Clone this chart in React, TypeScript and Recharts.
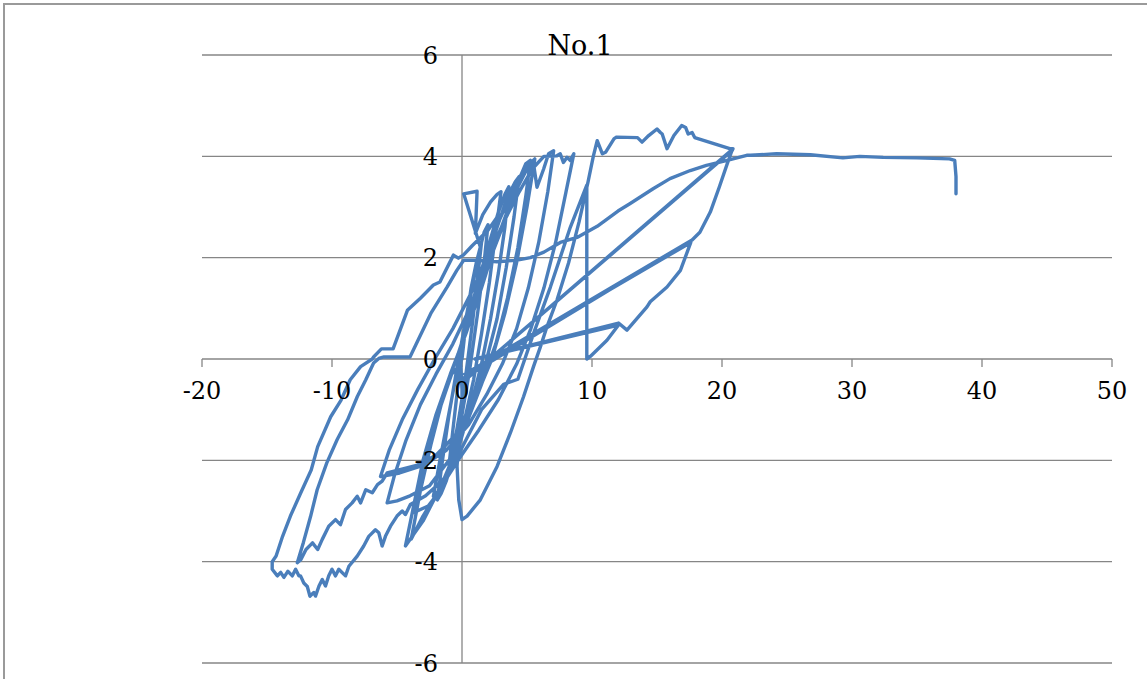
import React from 'react';
import { ScatterChart, Scatter, XAxis, YAxis, ReferenceLine, ReferenceDot } from 'recharts';

const xTicks = [-20, -10, 0, 10, 20, 30, 40, 50];
const yTicks = [-6, -4, -2, 0, 2, 4, 6];
const gridRows = [-6, -4, -2, 2, 4, 6];

// displacement (x) / load (y) pairs, in the order they were recorded
const smallCycles: [number, number][] = [
  [0, 0], [0.3, 0.7], [0.7, 1.4], [1.1, 1.9], [1.5, 2.3],
  [1.2, 1.6], [0.8, 0.7], [0.3, -0.3], [-0.2, -1.1], [-0.6, -1.7], [-1.0, -2.1],
  [-0.7, -1.4], [-0.3, -0.5], [0.2, 0.5], [0.7, 1.3], [1.3, 2.1], [1.7, 2.5], [2.0, 2.65],
  [1.7, 1.9], [1.2, 0.9], [0.6, -0.2], [0.0, -1.1], [-0.6, -1.9], [-1.2, -2.4], [-1.6, -2.65], [-1.9, -2.78],
  [-1.5, -2.0], [-1.0, -1.1], [-0.4, -0.2], [0.3, 0.8], [0.9, 1.6], [1.41, 2.21],
  [0.13, 3.26], [1.16, 3.31], [1.03, 2.48], [1.6, 2.85], [2.2, 3.1], [2.7, 3.25], [3.0, 3.3],
  [2.6, 2.5], [2.1, 1.5], [1.5, 0.5], [0.9, -0.4], [0.2, -1.2], [-0.66, -2.05], [-1.4, -2.5], [-2.2, -2.71],
];

const growingCycles: [number, number][] = [
  [-1.7, -2.0], [-1.1, -1.2], [-0.5, -0.4], [0.2, 0.5], [1.1, 1.4], [2.0, 2.2], [2.8, 2.9], [3.3, 3.25], [3.6, 3.4],
  [3.3, 2.6], [2.8, 1.7], [2.2, 0.8], [1.5, -0.1], [0.7, -0.9], [-0.2, -1.7], [-1.4, -2.5], [-2.6, -2.9], [-3.7, -3.03],
  [-3.1, -2.4], [-2.3, -1.5], [-1.3, -0.6], [-0.3, 0.1], [0.7, 0.9], [1.7, 1.8], [2.7, 2.6], [3.5, 3.2], [4.1, 3.5], [4.4, 3.6],
  [4.0, 2.8], [3.4, 1.8], [2.7, 0.8], [1.8, -0.1], [0.8, -0.9], [-0.3, -1.7], [-1.6, -2.5], [-3.0, -3.2], [-4.35, -3.69],
  [-3.8, -3.0], [-3.0, -2.0], [-2.0, -1.1], [-0.9, -0.3], [0.3, 0.5], [1.5, 1.4], [2.6, 2.3], [3.6, 3.0], [4.4, 3.55], [4.9, 3.85], [5.26, 3.92],
  [4.9, 3.2], [4.3, 2.2], [3.5, 1.2], [2.6, 0.3], [1.5, -0.5], [0.3, -1.3], [-1.0, -2.0], [-2.5, -2.5], [-4.0, -2.7], [-5.0, -2.8], [-5.76, -2.84],
  [-5.2, -2.3], [-4.3, -1.6], [-3.2, -0.9], [-2.0, -0.3], [-0.7, 0.3], [0.6, 1.0], [1.9, 1.8], [3.1, 2.6], [4.1, 3.3], [5.0, 3.75],
  [5.5, 3.86], [5.77, 3.39], [6.28, 3.75], [6.66, 4.05], [7.05, 4.11],
  [6.6, 3.3], [5.9, 2.3], [5.1, 1.4], [4.2, 0.6], [3.1, -0.1], [1.9, -0.7], [0.5, -1.3], [-1.2, -1.8], [-3.0, -2.1], [-4.8, -2.25], [-6.27, -2.32],
  [-5.6, -1.8], [-4.6, -1.2], [-3.4, -0.6], [-2.1, 0.0], [-0.7, 0.6], [0.7, 1.3], [2.0, 2.0], [3.2, 2.7], [4.4, 3.3], [5.4, 3.75], [6.3, 4.0],
  [7.3, 4.01], [7.56, 4.05], [7.8, 3.88], [8.08, 3.98], [8.33, 3.92], [8.6, 4.05],
  [8.0, 3.3], [7.2, 2.3], [6.3, 1.4], [5.3, 0.6], [4.2, -0.1], [2.8, -0.8], [1.3, -1.4], [-0.3, -2.0], [-1.8, -2.6], [-3.0, -3.1], [-3.6, -3.4], [-3.9, -3.55],
];

const dipAndPeak: [number, number][] = [
  [-3.2, -2.6], [-2.4, -1.7], [-1.6, -0.9], [-0.8, -0.3], [-0.1, -0.1], [0.0, -0.6], [0.0, -1.14],
  [-0.25, -1.59], [-0.38, -2.12], [-0.25, -2.78], [0.0, -3.17], [0.39, -3.1], [1.41, -2.78], [2.7, -2.12],
  [3.72, -1.46], [4.74, -0.74], [5.5, -0.15], [6.03, 0.24], [6.54, 0.64], [7.3, 1.16], [8.2, 1.9], [9.0, 2.7],
  [9.7, 3.5], [10.1, 4.0], [10.4, 4.31],
  [10.8, 4.05], [11.04, 4.08], [11.7, 4.35], [11.9, 4.38], [13.5, 4.37], [13.85, 4.28], [14.36, 4.41], [15.0, 4.54],
  [15.26, 4.47], [15.4, 4.44], [15.77, 4.15], [16.3, 4.41], [16.9, 4.61], [17.2, 4.57], [17.4, 4.44], [17.7, 4.47],
  [17.9, 4.37], [20.6, 4.15], [20.85, 4.15],
];

const dropouts: [number, number][] = [
  [0.1, -0.45], [20.8, 4.12], [0.3, -0.4], [20.76, 4.11],
  [20.4, 3.85], [19.8, 3.4], [19.1, 2.9], [18.3, 2.5], [17.7, 2.35],
  [0.1, -0.38], [17.7, 2.35], [0.2, -0.3], [17.6, 2.3],
  [16.8, 1.75], [15.77, 1.42], [14.48, 1.13], [14.23, 1.03], [12.69, 0.57], [12.04, 0.71],
  [1.0, 0.0], [12.04, 0.67], [11.15, 0.37], [9.87, 0.05], [9.6, 0.0], [9.6, 3.43],
  [8.33, 2.6], [6.8, 1.42], [5.5, 0.5], [4.3, -0.4], [3.2, -0.5], [1.5, -1.0], [0.5, -1.5],
  [-0.5, -2.0], [-1.5, -2.4], [-2.8, -2.7], [-3.97, -2.87],
];

const largeNegative: [number, number][] = [
  [-4.35, -3.07], [-4.6, -3.0], [-5.0, -3.1], [-5.5, -3.3], [-5.89, -3.5], [-6.14, -3.69], [-6.4, -3.43],
  [-6.66, -3.37], [-7.17, -3.5], [-7.56, -3.69], [-8.06, -3.89], [-8.7, -4.09], [-8.96, -4.28], [-9.48, -4.15],
  [-9.73, -4.28], [-10.0, -4.15], [-10.25, -4.28], [-10.5, -4.48], [-10.75, -4.35], [-11.0, -4.48], [-11.27, -4.68],
  [-11.4, -4.61], [-11.7, -4.68], [-11.9, -4.49], [-12.17, -4.42], [-12.42, -4.28], [-12.55, -4.28],
  [-12.8, -4.15], [-13.05, -4.28], [-13.4, -4.19], [-13.7, -4.31], [-13.95, -4.21], [-14.2, -4.28], [-14.6, -4.15],
  [-14.6, -4.0], [-14.3, -3.89], [-13.8, -3.5], [-13.2, -3.1], [-12.4, -2.64], [-11.6, -2.19], [-11.1, -1.73],
  [-10.1, -1.14], [-9.3, -0.81], [-8.6, -0.41], [-7.8, -0.15], [-6.9, 0.0], [-6.8, 0.04], [-6.2, 0.2], [-5.3, 0.2],
  [-4.2, 0.96], [-3.2, 1.2], [-2.2, 1.46], [-1.7, 1.52], [-0.66, 2.05], [-0.28, 1.99], [0.1, 2.05], [0.8, 2.24],
  [2.0, 2.54], [2.7, 2.8], [2.95, 2.78], [3.5, 3.1], [4.2, 3.5], [5.0, 3.8], [5.6, 3.95],
  [5.0, 3.0], [4.2, 1.9], [3.3, 0.9], [2.3, 0.0], [1.0, -0.8], [-0.5, -1.5], [-2.0, -1.9], [-3.5, -2.1],
  [-5.0, -2.2], [-5.76, -2.25],
  [-6.14, -2.41], [-6.5, -2.48], [-6.9, -2.64], [-7.4, -2.58], [-7.8, -2.84], [-8.06, -2.71], [-8.45, -2.84],
  [-8.96, -2.97], [-9.35, -3.27], [-9.73, -3.17], [-10.25, -3.3], [-10.75, -3.56], [-11.1, -3.76], [-11.5, -3.63],
  [-12.0, -3.76], [-12.4, -3.96], [-12.67, -4.02],
];

const finalBranch: [number, number][] = [
  [-12.6, -3.96], [-12.2, -3.62], [-11.65, -3.11], [-11.14, -2.58], [-10.4, -2.05], [-9.6, -1.59], [-8.8, -1.2],
  [-8.05, -0.74], [-7.4, -0.41], [-6.8, -0.08], [-6.4, 0.01], [-6.0, 0.04], [-4.0, 0.04], [-2.4, 0.9],
  [-1.15, 1.42], [-0.4, 1.75], [0.13, 1.95], [1.16, 1.95], [2.7, 1.92], [4.24, 1.95], [5.26, 2.0], [6.3, 2.11],
  [7.56, 2.3], [8.85, 2.4], [10.4, 2.62], [12.0, 2.92], [12.94, 3.07], [14.7, 3.36], [16.0, 3.56], [17.56, 3.72],
  [18.8, 3.82], [20.4, 3.92], [21.9, 4.02], [22.2, 4.02], [24.2, 4.05], [26.8, 4.03], [29.3, 3.97], [30.6, 4.0],
  [32.4, 3.98], [35.0, 3.97], [37.5, 3.95], [37.9, 3.92], [38.0, 3.6], [38.0, 3.26],
];

const loopData = [smallCycles, growingCycles, dipAndPeak, dropouts, largeNegative, finalBranch]
  .flat()
  .map(([x, y]) => ({ x, y }));

const LINE_BLUE = '#4a7ebb';
const GRID_GREY = '#868686';
const FONT = '"DejaVu Serif", "Liberation Serif", serif';

const noMarker = () => <g />;

export default function App() {
  return (
    <div
      style={{
        position: 'fixed',
        left: 0,
        top: 0,
        width: 1147,
        height: 679,
        overflow: 'hidden',
        background: '#fff',
      }}
    >
      {/* chart frame, runs off the right and bottom of the picture */}
      <div
        style={{
          position: 'absolute',
          left: 3,
          top: 3,
          width: 1200,
          height: 800,
          border: '2px solid #9a9a9a',
        }}
      />
      <div
        style={{
          position: 'absolute',
          left: 480,
          top: 32,
          width: 200,
          textAlign: 'center',
          fontFamily: FONT,
          fontSize: 27,
          lineHeight: 1,
          color: '#000',
          zIndex: 2,
        }}
      >
        No.1
      </div>
      <div style={{ position: 'absolute', left: 0, top: 0 }}>
        <ScatterChart width={1147} height={679} margin={{ top: 55, right: 35, bottom: 16, left: 202 }}>
          <XAxis type="number" dataKey="x" domain={[-20, 50]} ticks={xTicks} hide />
          <YAxis type="number" dataKey="y" domain={[-6, 6]} ticks={yTicks} hide />
          {gridRows.map((v) => (
            <ReferenceLine key={`g${v}`} y={v} stroke={GRID_GREY} strokeWidth={1.3} />
          ))}
          <ReferenceLine y={0} stroke={GRID_GREY} strokeWidth={1.3} />
          <ReferenceLine x={0} stroke={GRID_GREY} strokeWidth={1.3} />
          {xTicks.map((t) => (
            <ReferenceLine
              key={`t${t}`}
              segment={[{ x: t, y: 0 }, { x: t, y: -0.16 }]}
              stroke={GRID_GREY}
              strokeWidth={1.3}
            />
          ))}
          <Scatter
            data={loopData}
            fill={LINE_BLUE}
            line={{ stroke: LINE_BLUE, strokeWidth: 3.4, strokeLinejoin: 'round', strokeLinecap: 'round' }}
            lineJointType="linear"
            shape={noMarker}
            isAnimationActive={false}
          />
          {xTicks.map((t) => (
            <ReferenceDot
              key={`xl${t}`}
              x={t}
              y={0}
              r={1}
              fill="none"
              stroke="none"
              label={{ value: String(t), position: 'bottom', offset: 22, fill: '#000', fontSize: 24, fontFamily: FONT }}
            />
          ))}
          {yTicks.map((t) => (
            <ReferenceDot
              key={`yl${t}`}
              x={0}
              y={t}
              r={1}
              fill="none"
              stroke="none"
              label={{ value: String(t), position: 'left', offset: 23, fill: '#000', fontSize: 24, fontFamily: FONT }}
            />
          ))}
        </ScatterChart>
      </div>
    </div>
  );
}
